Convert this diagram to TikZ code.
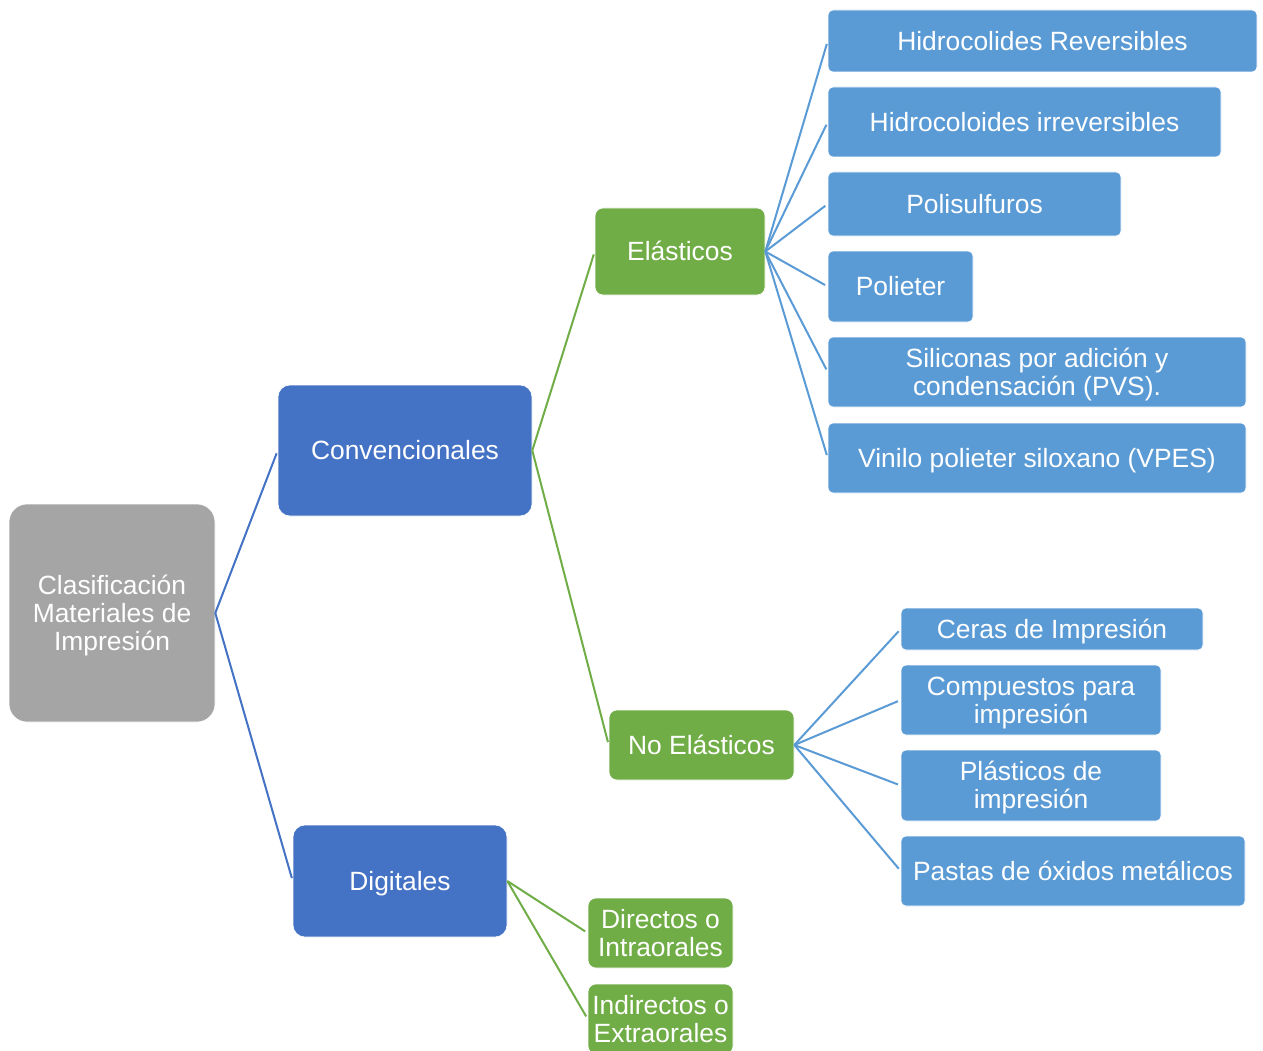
\documentclass[tikz,border=0pt]{standalone}
\usepackage{fontspec}
\setmainfont{Liberation Sans}
\definecolor{cgray}{HTML}{A5A5A5}
\definecolor{cdblue}{HTML}{4472C4}
\definecolor{cgreen}{HTML}{70AD47}
\definecolor{clblue}{HTML}{5B9BD5}
\newcommand{\tstr}{\rule{0pt}{23.8pt}}
\begin{document}
\begin{tikzpicture}[x=1pt,y=-1pt,
  box/.style={draw=white, line width=0.6pt, text=white, align=center, inner sep=0pt,
    font=\fontsize{26.4}{28}\selectfont,
    execute at end node={\rule[-5.6pt]{0pt}{0pt}}},
  rootbox/.style={box, fill=cgray, rounded corners=18pt},
  dbox/.style={box, fill=cdblue, rounded corners=12pt},
  gbox/.style={box, fill=cgreen, rounded corners=8pt},
  lbox/.style={box, fill=clblue, rounded corners=5pt},
  conn/.style={line width=2pt, shorten >=3pt},
]
\useasboundingbox[fill=white] (0,0) rectangle (1263,1051);
% nodes
\node[rootbox, minimum width=206, minimum height=218] (root) at (112,613) {\tstr Clasificación\\Materiales de\\Impresión};
\node[dbox, minimum width=254, minimum height=131] (conv) at (405,450.5) {\tstr Convencionales};
\node[dbox, minimum width=214, minimum height=112] (dig) at (400,881) {\tstr Digitales};
\node[gbox, minimum width=170, minimum height=87] (ela) at (680,251.5) {\tstr Elásticos};
\node[gbox, minimum width=185, minimum height=70] (noela) at (701.5,745) {\tstr No Elásticos};
\node[gbox, minimum width=145, minimum height=70] (dir) at (660.5,933) {\tstr Directos o\\Intraorales};
\node[gbox, minimum width=145, minimum height=70] (ind) at (660.5,1019) {\tstr Indirectos o\\Extraorales};
\node[lbox, minimum width=429, minimum height=62] (h1) at (1042.5,41) {\tstr Hidrocolides Reversibles};
\node[lbox, minimum width=393, minimum height=70] (h2) at (1024.5,122) {\tstr Hidrocoloides irreversibles};
\node[lbox, minimum width=293, minimum height=64] (h3) at (974.5,204) {\tstr Polisulfuros};
\node[lbox, minimum width=145, minimum height=71] (h4) at (900.5,286.5) {\tstr Polieter};
\node[lbox, minimum width=418, minimum height=70] (h5) at (1037,372) {\tstr Siliconas por adición y\\condensación (PVS).};
\node[lbox, minimum width=418, minimum height=70] (h6) at (1037,458) {\tstr Vinilo polieter siloxano (VPES)};
\node[lbox, minimum width=302, minimum height=42] (c1) at (1052,629) {\tstr Ceras de Impresión};
\node[lbox, minimum width=260, minimum height=70] (c2) at (1031,700) {\tstr Compuestos para\\impresión};
\node[lbox, minimum width=260, minimum height=71] (c3) at (1031,785.5) {\tstr Plásticos de\\impresión};
\node[lbox, minimum width=344, minimum height=70] (c4) at (1073,871) {\tstr Pastas de óxidos metálicos};
% connectors
\draw[conn, cdblue] (root.east) -- (conv.west);
\draw[conn, cdblue] (root.east) -- (dig.west);
\draw[conn, cgreen] (conv.east) -- (ela.west);
\draw[conn, cgreen] (conv.east) -- (noela.west);
\draw[conn, cgreen] (dig.east) -- (dir.west);
\draw[conn, cgreen] (dig.east) -- (ind.west);
\foreach \c in {h1,h2,h3,h4,h5,h6} \draw[conn, clblue] (ela.east) -- (\c.west);
\foreach \c in {c1,c2,c3,c4} \draw[conn, clblue] (noela.east) -- (\c.west);
\end{tikzpicture}
\end{document}
